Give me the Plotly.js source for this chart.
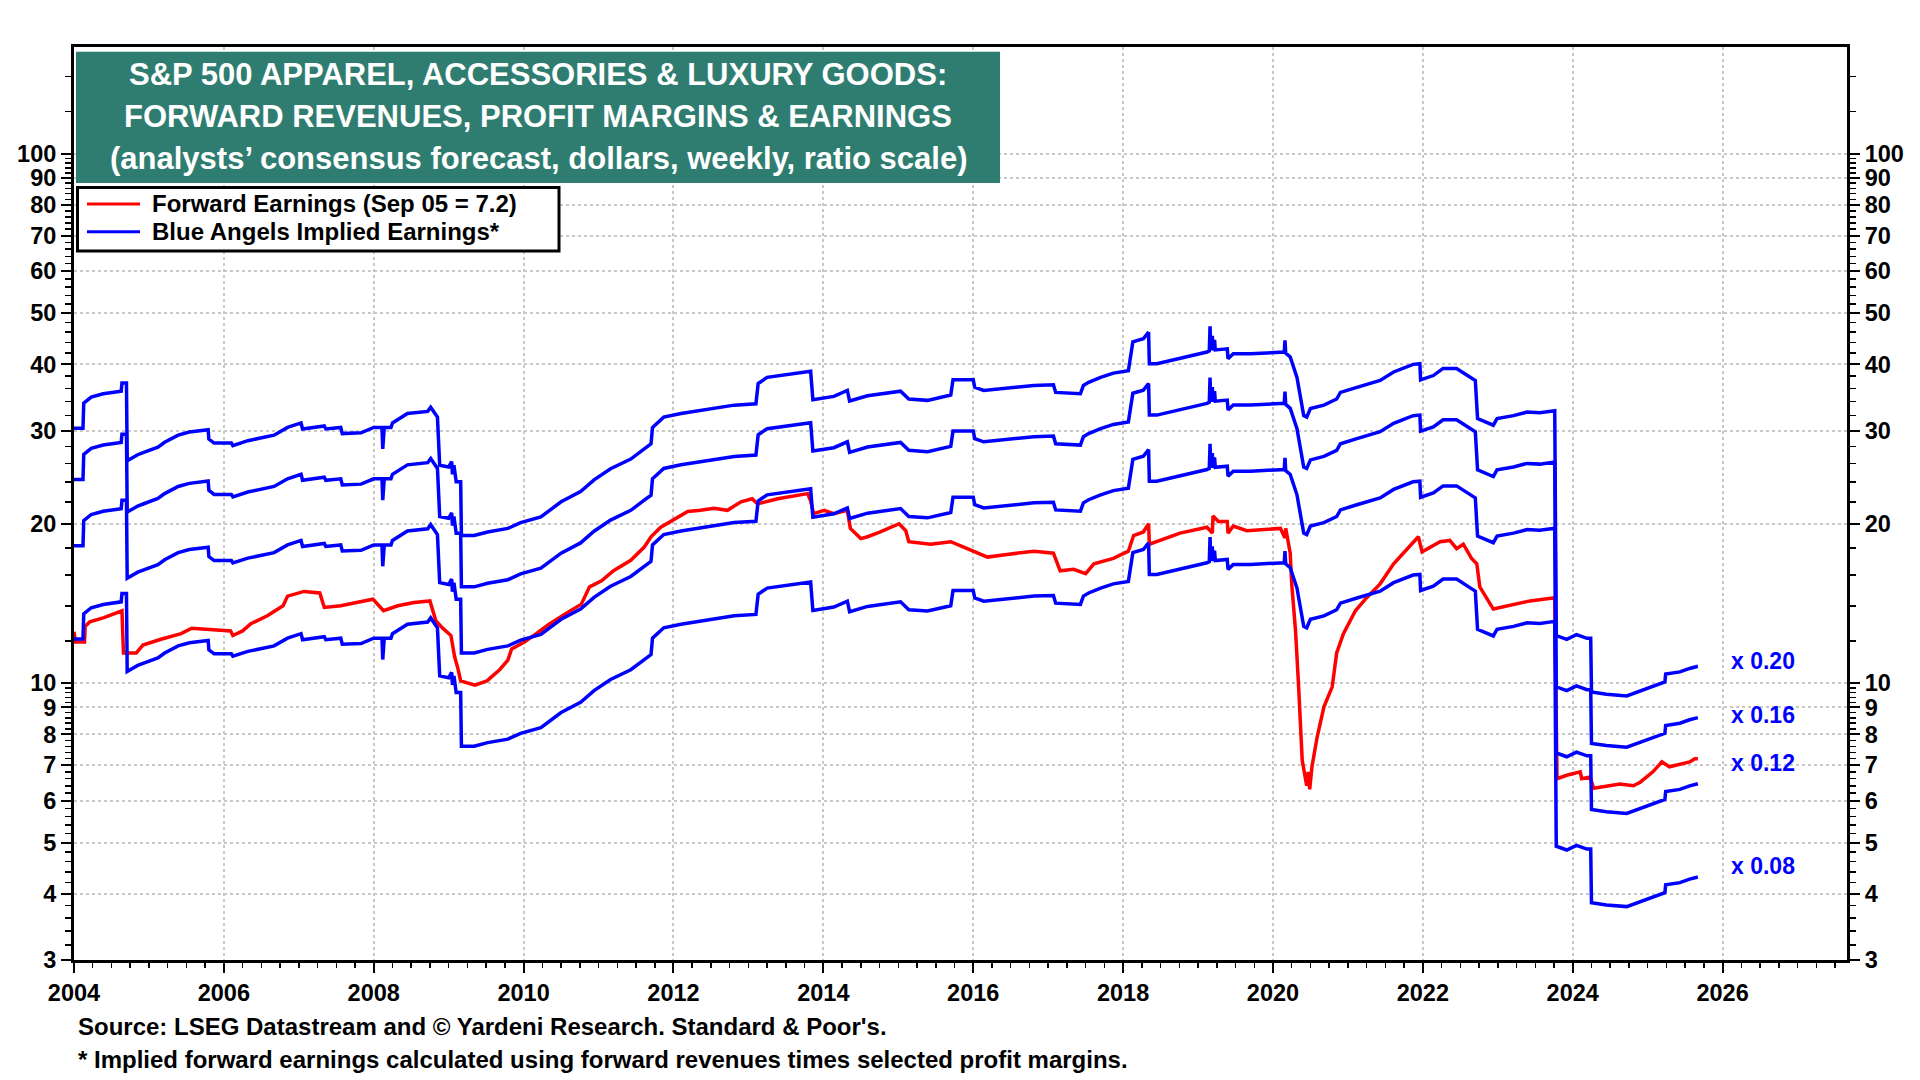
<!DOCTYPE html>
<html>
<head>
<meta charset="utf-8">
<script src="https://cdn.plot.ly/plotly-3.0.1.min.js"></script>
<style>
html,body{margin:0;padding:0;background:#fff;}
#chart{width:1920px;height:1080px;}
</style>
</head>
<body>
<div id="chart"></div>
<script>
// ---------- DATA ----------
// Forward revenues per share (weekly, step points)
const revYears = [2004.00,2004.12,2004.13,2004.23,2004.39,2004.63,2004.64,2004.70,2004.71,2004.85,2004.94,2005.12,2005.21,2005.39,2005.54,2005.79,2005.80,2005.87,2006.10,2006.12,2006.32,2006.67,2006.85,2007.03,2007.05,2007.34,2007.36,2007.56,2007.58,2007.83,2008.00,2008.11,2008.12,2008.14,2008.23,2008.25,2008.45,2008.72,2008.76,2008.85,2008.88,2009.00,2009.04,2009.05,2009.07,2009.10,2009.16,2009.17,2009.34,2009.52,2009.79,2009.96,2010.23,2010.50,2010.76,2010.94,2011.16,2011.43,2011.61,2011.70,2011.72,2011.87,2012.10,2012.54,2012.81,2013.10,2013.13,2013.25,2013.56,2013.83,2013.86,2014.14,2014.32,2014.35,2014.59,2015.03,2015.14,2015.39,2015.70,2015.73,2016.00,2016.02,2016.14,2016.54,2016.81,2017.07,2017.10,2017.43,2017.47,2017.54,2017.70,2017.87,2018.07,2018.13,2018.27,2018.34,2018.35,2018.45,2018.76,2019.12,2019.15,2019.16,2019.17,2019.19,2019.20,2019.22,2019.23,2019.39,2019.40,2019.47,2019.70,2020.10,2020.15,2020.16,2020.17,2020.23,2020.32,2020.41,2020.45,2020.50,2020.68,2020.85,2020.90,2021.12,2021.43,2021.61,2021.87,2021.96,2021.97,2022.14,2022.27,2022.45,2022.59,2022.70,2022.73,2022.94,2022.99,2023.21,2023.39,2023.56,2023.76,2023.78,2023.92,2024.05,2024.19,2024.24,2024.25,2024.45,2024.72,2024.85,2025.07,2025.23,2025.24,2025.43,2025.56,2025.67];
const fwdRevenue = [151.5,151.5,169,173.5,176,178,184.5,184.5,131.5,135,136.5,139.5,142.5,147,149,150.5,144.5,142,142,140.5,143.5,147,152,155,151,153,151,152,148,148.5,152,152,138.5,152,152,155,161.5,163,166,159,129,128,131,124,129,120,120,95,95,96.5,98,100.5,103,110,115,121,127,132.5,138.5,141.5,152,159,161.5,165,167.5,168.5,184,189,192,194,171.5,174,178.5,170.5,174.5,178,172,171,175,187,187,181,178.5,181,182.5,183,177,176,182.5,185,189,192.5,194.5,220.5,223.5,230,200.5,200.5,205,211,212,236,212.5,226.5,212.5,222.5,213,214,205,209.5,209.5,211,211,222,210,206.5,189,160,159,165,167.5,172,177,181,186.5,193.5,200,200.5,187,190.5,196.5,196.5,190.5,186.5,158,153.5,158,160,162.5,162,163.5,61.5,60.5,61.75,60.75,60.75,48.1,47.65,47.3,48,49.35,50.25,52,52.5,53.3,53.8];
// Selected profit margins for the Blue Angels implied earnings
const margins = [0.20, 0.16, 0.12, 0.08];
const marginLabels = ["x 0.20", "x 0.16", "x 0.12", "x 0.08"];
const marginLabelY = [11.0, 8.7, 7.06, 4.51];

// Forward earnings (red)
const earnYears = [2004.00,2004.02,2004.14,2004.15,2004.21,2004.40,2004.64,2004.66,2004.83,2004.92,2005.16,2005.43,2005.57,2005.87,2006.09,2006.12,2006.25,2006.36,2006.58,2006.79,2006.85,2007.07,2007.28,2007.34,2007.56,2007.77,2007.99,2008.13,2008.32,2008.54,2008.75,2008.83,2008.92,2009.03,2009.08,2009.12,2009.16,2009.35,2009.51,2009.68,2009.79,2009.84,2010.01,2010.17,2010.33,2010.55,2010.77,2010.88,2011.04,2011.20,2011.37,2011.43,2011.61,2011.70,2011.83,2012.01,2012.19,2012.36,2012.54,2012.72,2012.90,2013.05,2013.12,2013.39,2013.56,2013.79,2013.83,2013.87,2014.01,2014.14,2014.32,2014.36,2014.50,2014.59,2014.76,2015.01,2015.10,2015.14,2015.43,2015.70,2015.92,2016.19,2016.45,2016.81,2017.07,2017.16,2017.34,2017.50,2017.61,2017.87,2018.07,2018.14,2018.27,2018.34,2018.35,2018.45,2018.76,2019.12,2019.19,2019.20,2019.27,2019.39,2019.40,2019.47,2019.65,2020.10,2020.16,2020.17,2020.23,2020.25,2020.30,2020.34,2020.39,2020.45,2020.47,2020.49,2020.52,2020.59,2020.68,2020.79,2020.85,2020.94,2021.10,2021.25,2021.43,2021.61,2021.79,2021.94,2021.99,2022.23,2022.36,2022.45,2022.54,2022.65,2022.72,2022.76,2022.94,2023.16,2023.43,2023.76,2023.79,2023.92,2024.10,2024.12,2024.23,2024.28,2024.45,2024.63,2024.81,2024.90,2025.07,2025.19,2025.29,2025.47,2025.56,2025.63,2025.67];
const fwdEarnings = [12.5,11.96,11.96,12.8,13.05,13.3,13.7,11.4,11.4,11.8,12.1,12.4,12.7,12.6,12.55,12.3,12.55,12.95,13.4,14.0,14.6,14.9,14.8,13.9,14.0,14.2,14.4,13.7,14.0,14.2,14.3,13.1,12.7,12.3,11.2,10.7,10.1,9.91,10.1,10.6,11.05,11.6,11.96,12.4,12.9,13.5,14.1,15.2,15.6,16.3,16.9,17.06,18.07,18.9,19.7,20.4,21.1,21.2,21.4,21.2,22.0,22.3,21.8,22.3,22.5,22.8,22.1,20.9,21.2,20.9,21.2,19.6,18.75,18.9,19.3,20.0,19.4,18.5,18.3,18.5,17.95,17.3,17.5,17.75,17.6,16.3,16.4,16.1,16.8,17.2,17.75,19.0,19.3,20.0,18.3,18.5,19.2,19.7,19.2,20.7,20.2,20.2,19.2,19.8,19.4,19.6,18.8,19.6,17.6,15.4,12.6,9.98,7.15,6.4,6.8,6.3,6.95,7.92,9.02,9.84,11.4,12.4,13.7,14.5,15.4,16.8,17.95,18.9,17.7,18.5,18.6,17.95,18.3,17.2,16.8,15.2,13.8,14.0,14.3,14.5,6.6,6.7,6.8,6.6,6.65,6.33,6.4,6.45,6.4,6.5,6.8,7.1,6.95,7.05,7.1,7.2,7.2];

// Axis ticks
const xTicks = [2004,2006,2008,2010,2012,2014,2016,2018,2020,2022,2024,2026];
const yTicks = [3,4,5,6,7,8,9,10,20,30,40,50,60,70,80,90,100];

const titleLines = [
  "S&P 500 APPAREL, ACCESSORIES & LUXURY GOODS:",
  "FORWARD REVENUES, PROFIT MARGINS & EARNINGS",
  "(analysts\u2019 consensus forecast, dollars, weekly, ratio scale)"
];
const legendNames = ["Forward Earnings (Sep 05 = 7.2)", "Blue Angels Implied Earnings*"];
const footnotes = [
  "Source: LSEG Datastream and \u00A9 Yardeni Research. Standard & Poor's.",
  "* Implied forward earnings calculated using forward revenues times selected profit margins."
];

// ---------- LAYOUT HELPERS ----------
const W = 1920, H = 1080;
const M = {l: 74, r: 73, t: 47, b: 120};
const PW = W - M.l - M.r, PH = H - M.t - M.b;
const px = x => (x - M.l) / PW;
const py = y => (H - M.b - y) / PH;

const yMinor = [];
for (let v = 3.2; v < 10; v += 0.2) { const r = Math.round(v * 10) / 10; if (Math.abs(r - Math.round(r)) > 1e-6) yMinor.push(r); }
for (let v = 12; v < 100; v += 2) { if (v % 10 !== 0) yMinor.push(v); }
yMinor.push(120, 140);

const FONT = "Liberation Sans, Arial, Helvetica, sans-serif";
const RED = "#ff0000", BLUE = "#0000ff";

const traces = [];
traces.push({
  x: earnYears, y: fwdEarnings, type: "scatter", mode: "lines",
  line: {color: RED, width: 3.5}, name: legendNames[0], showlegend: false, hoverinfo: "skip"
});
margins.forEach((m, i) => {
  traces.push({
    x: revYears, y: fwdRevenue.map(r => r * m), type: "scatter", mode: "lines",
    line: {color: BLUE, width: 3.5}, name: legendNames[1] + " " + marginLabels[i],
    showlegend: false, hoverinfo: "skip"
  });
});
// right-side axis carrier
traces.push({x: [2004], y: [10], yaxis: "y2", type: "scatter", mode: "markers",
  marker: {opacity: 0, size: 1}, showlegend: false, hoverinfo: "skip"});

const yRange = [Math.log10(3), Math.log10(159)];
const yCommon = {
  type: "log", range: yRange, tickmode: "array", tickvals: yTicks, ticktext: yTicks.map(String),
  ticks: "outside", ticklen: 10, tickwidth: 2, tickcolor: "#000",
  showline: true, linewidth: 3, linecolor: "#000",
  tickfont: {family: FONT, size: 23.5, color: "#000", weight: "bold"},
  minor: {tickmode: "array", tickvals: yMinor, ticks: "outside", ticklen: 6, tickwidth: 1.5, tickcolor: "#000", showgrid: false},
  zeroline: false, fixedrange: true
};

const annotations = [];
const titleY = [75, 116.7, 158.3];
titleLines.forEach((t, i) => annotations.push({
  xref: "paper", yref: "paper", x: px(538), y: py(titleY[i]), xanchor: "center", yanchor: "middle",
  text: "<b>" + t + "</b>", showarrow: false, font: {family: FONT, size: 31, color: "#fff"}
}));
annotations.push({xref: "paper", yref: "paper", x: px(150), y: py(204), xanchor: "left", yanchor: "middle",
  text: "<b>" + legendNames[0] + "</b>", showarrow: false, font: {family: FONT, size: 24, color: "#000"}});
annotations.push({xref: "paper", yref: "paper", x: px(150), y: py(231.7), xanchor: "left", yanchor: "middle",
  text: "<b>" + legendNames[1] + "</b>", showarrow: false, font: {family: FONT, size: 24, color: "#000"}});
marginLabels.forEach((t, i) => annotations.push({
  xref: "x", yref: "y", x: 2026.54, y: Math.log10(marginLabelY[i]), xanchor: "center", yanchor: "middle",
  text: "<b>" + t + "</b>", showarrow: false, font: {family: FONT, size: 23, color: BLUE}
}));
const footY = [1026, 1059];
footnotes.forEach((t, i) => annotations.push({
  xref: "paper", yref: "paper", x: px(76), y: py(footY[i]), xanchor: "left", yanchor: "middle",
  text: "<b>" + t + "</b>", showarrow: false, font: {family: FONT, size: 24, color: "#000"}
}));

const shapes = [
  {type: "rect", xref: "paper", yref: "paper", x0: px(76), x1: px(1000), y0: py(183), y1: py(51.7),
   fillcolor: "#2f7d71", line: {width: 0}, layer: "above"},
  {type: "rect", xref: "paper", yref: "paper", x0: px(77.5), x1: px(559), y0: py(251), y1: py(187.5),
   fillcolor: "#ffffff", line: {color: "#000", width: 3}, layer: "above"},
  {type: "line", xref: "paper", yref: "paper", x0: px(87), x1: px(140), y0: py(204), y1: py(204),
   line: {color: RED, width: 3}, layer: "above"},
  {type: "line", xref: "paper", yref: "paper", x0: px(87), x1: px(140), y0: py(231.7), y1: py(231.7),
   line: {color: BLUE, width: 3}, layer: "above"}
];

const layout = {
  width: W, height: H,
  margin: {l: M.l, r: M.r, t: M.t, b: M.b, pad: 0},
  paper_bgcolor: "#fff", plot_bgcolor: "#fff",
  showlegend: false,
  font: {family: FONT, color: "#000"},
  xaxis: {
    type: "linear", range: [2004, 2027.66], tickmode: "array", tickvals: xTicks, ticktext: xTicks.map(String),
    ticks: "outside", ticklen: 10, tickwidth: 2, tickcolor: "#000",
    showline: true, linewidth: 3, linecolor: "#000", mirror: true,
    showgrid: true, gridcolor: "#c8c8c8", gridwidth: 2, griddash: "dot",
    tickfont: {family: FONT, size: 23.5, color: "#000", weight: "bold"},
    minor: {dtick: 0.25, tick0: 2004, ticks: "outside", ticklen: 5, tickwidth: 1.5, tickcolor: "#000", showgrid: false},
    zeroline: false, fixedrange: true
  },
  yaxis: Object.assign({}, yCommon, {side: "left",
    showgrid: true, gridcolor: "#c8c8c8", gridwidth: 2, griddash: "dot"}),
  yaxis2: Object.assign({}, yCommon, {side: "right", overlaying: "y", showgrid: false}),
  annotations: annotations,
  shapes: shapes
};

Plotly.newPlot("chart", traces, layout, {displayModeBar: false, staticPlot: true});
</script>
</body>
</html>
